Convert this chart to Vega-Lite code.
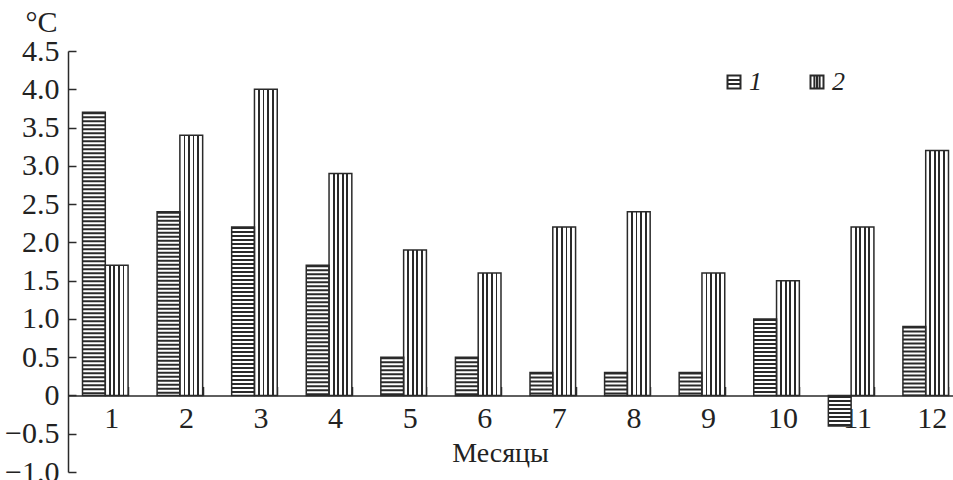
{
  "$schema": "https://vega.github.io/schema/vega-lite/v6.json",
  "width": 885,
  "height": 421,
  "autosize": "none",
  "padding": {"left": 68, "top": 51, "right": 0, "bottom": 8},
  "background": "white",
  "config": {
    "view": {"stroke": null},
    "font": "Liberation Serif",
    "axis": {
      "grid": false,
      "domainColor": "#2a2a2a",
      "domainWidth": 1.5,
      "tickColor": "#2a2a2a",
      "tickWidth": 1.5,
      "labelColor": "#222222",
      "titleColor": "#222222",
      "labelFont": "Liberation Serif",
      "titleFont": "Liberation Serif",
      "titleFontWeight": "normal"
    }
  },
  "data": {
    "values": [
      {"month": 1, "series": "1", "value": 3.7},
      {"month": 1, "series": "2", "value": 1.7},
      {"month": 2, "series": "1", "value": 2.4},
      {"month": 2, "series": "2", "value": 3.4},
      {"month": 3, "series": "1", "value": 2.2},
      {"month": 3, "series": "2", "value": 4.0},
      {"month": 4, "series": "1", "value": 1.7},
      {"month": 4, "series": "2", "value": 2.9},
      {"month": 5, "series": "1", "value": 0.5},
      {"month": 5, "series": "2", "value": 1.9},
      {"month": 6, "series": "1", "value": 0.5},
      {"month": 6, "series": "2", "value": 1.6},
      {"month": 7, "series": "1", "value": 0.3},
      {"month": 7, "series": "2", "value": 2.2},
      {"month": 8, "series": "1", "value": 0.3},
      {"month": 8, "series": "2", "value": 2.4},
      {"month": 9, "series": "1", "value": 0.3},
      {"month": 9, "series": "2", "value": 1.6},
      {"month": 10, "series": "1", "value": 1.0},
      {"month": 10, "series": "2", "value": 1.5},
      {"month": 11, "series": "1", "value": -0.4},
      {"month": 11, "series": "2", "value": 2.2},
      {"month": 12, "series": "1", "value": 0.9},
      {"month": 12, "series": "2", "value": 3.2}
    ]
  },
  "encoding": {
    "x": {
      "field": "month",
      "type": "ordinal",
      "scale": {"range": [0, 895], "paddingInner": 0.389, "paddingOuter": 0.1945},
      "axis": {
        "title": "Месяцы",
        "orient": "bottom",
        "offset": -76.55,
        "tickBand": "extent",
        "tickSize": -9,
        "tickOffset": -1.5,
        "labelAngle": 0,
        "labelFontSize": 30,
        "labelOffset": 6,
        "labelPadding": 17,
        "titleFontSize": 28,
        "titleX": 432,
        "titleY": 66,
        "titleAlign": "center",
        "titleBaseline": "alphabetic"
      }
    },
    "xOffset": {"field": "series", "type": "nominal"},
    "y": {
      "field": "value",
      "type": "quantitative",
      "scale": {"domain": [-1, 4.5], "nice": false, "zero": false},
      "axis": {
        "title": "°C",
        "titleAngle": 0,
        "titleX": -11,
        "titleY": -20,
        "titleAlign": "right",
        "titleBaseline": "alphabetic",
        "titleFontSize": 30,
        "values": [-1, -0.5, 0, 0.5, 1, 1.5, 2, 2.5, 3, 3.5, 4, 4.5],
        "labelExpr": "datum.value == 0 ? '0' : format(datum.value, '.1f')",
        "tickSize": -8,
        "labelPadding": 17,
        "labelFontSize": 30
      }
    },
    "y2": {"datum": 0}
  },
  "layer": [
    {
      "mark": {"type": "bar", "strokeWidth": 0},
      "encoding": {
        "fill": {
          "condition": {
            "test": "datum.series == '2'",
            "value": {
              "gradient": "linear", "x1": 0, "y1": 0, "x2": 1, "y2": 0,
              "stops": [
                {"offset": 0, "color": "#ffffff"},
                {"offset": 0.16, "color": "#ffffff"},
                {"offset": 0.16, "color": "#2a2a2a"},
                {"offset": 0.24, "color": "#2a2a2a"},
                {"offset": 0.24, "color": "#ffffff"},
                {"offset": 0.36, "color": "#ffffff"},
                {"offset": 0.36, "color": "#2a2a2a"},
                {"offset": 0.44, "color": "#2a2a2a"},
                {"offset": 0.44, "color": "#ffffff"},
                {"offset": 0.56, "color": "#ffffff"},
                {"offset": 0.56, "color": "#2a2a2a"},
                {"offset": 0.64, "color": "#2a2a2a"},
                {"offset": 0.64, "color": "#ffffff"},
                {"offset": 0.76, "color": "#ffffff"},
                {"offset": 0.76, "color": "#2a2a2a"},
                {"offset": 0.84, "color": "#2a2a2a"},
                {"offset": 0.84, "color": "#ffffff"},
                {"offset": 1, "color": "#ffffff"}
              ]
            }
          },
          "value": "#ffffff"
        }
      }
    },
    {
      "transform": [{"filter": "datum.series == '1'"}],
      "mark": {"type": "rule", "strokeWidth": 22.8, "strokeDash": [2, 2], "color": "#2a2a2a", "strokeCap": "butt"},
      "encoding": {}
    },
    {
      "mark": {"type": "bar", "fill": null, "stroke": "#2a2a2a", "strokeWidth": 1.5},
      "encoding": {}
    },
    {
      "mark": {"type": "point", "opacity": 0, "filled": false, "size": 169},
      "encoding": {
        "shape": {
          "field": "series",
          "type": "nominal",
          "scale": {
            "range": [
              "M-1,-1H1V1H-1Z M-1,-0.3H1 M-1,0.3H1",
              "M-1,-1H1V1H-1Z M-0.4,-1V1 M0,-1V1 M0.4,-1V1"
            ]
          },
          "legend": {
            "orient": "none",
            "legendX": 653,
            "legendY": 18,
            "direction": "horizontal",
            "title": null,
            "padding": 0,
            "symbolSize": 169,
            "symbolOpacity": 1,
            "symbolFillColor": "#ffffff",
            "symbolStrokeColor": "#2a2a2a",
            "symbolStrokeWidth": 2,
            "labelFont": "Liberation Serif",
            "labelFontSize": 26,
            "labelFontStyle": "italic",
            "labelColor": "#222222",
            "labelOffset": 2,
            "columnPadding": 42
          }
        }
      }
    }
  ]
}
